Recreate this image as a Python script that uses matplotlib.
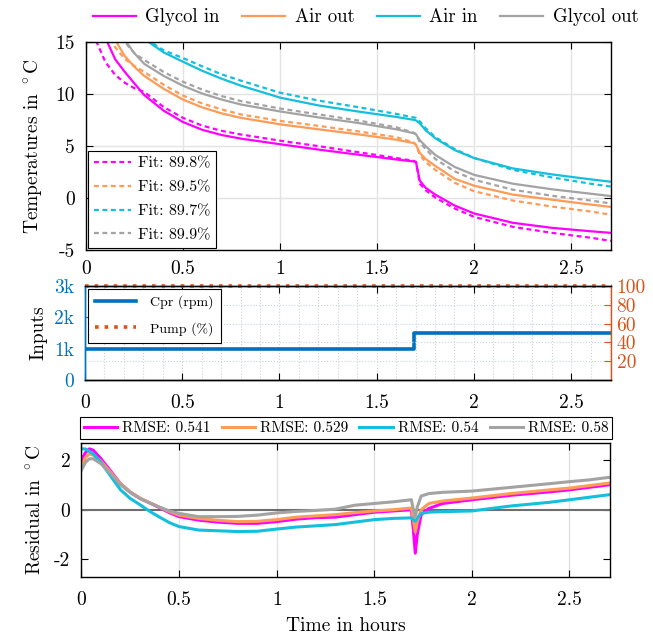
import matplotlib.pyplot as plt
import numpy as np

plt.rcParams['font.family'] = 'serif'
plt.rcParams['font.serif'] = ['cmr10']
plt.rcParams['mathtext.fontset'] = 'cm'
plt.rcParams['axes.unicode_minus'] = False
plt.rcParams['axes.formatter.use_mathtext'] = True

# ---- data ----
# temperatures (measured = solid, fit = dashed)
t_temp = [0, 0.05, 0.1, 0.15, 0.2, 0.25, 0.3, 0.4, 0.5, 0.6, 0.7, 0.8, 1.0, 1.2, 1.4,
          1.6, 1.69, 1.70, 1.72, 1.75, 1.8, 1.9, 2.0, 2.2, 2.4, 2.6, 2.73]
glycol_in = [24, 18.5, 15.4, 13.35, 12.12, 11.0, 9.9, 8.4, 7.3, 6.55, 6.05, 5.7, 5.17, 4.65, 4.17,
             3.7, 3.51, 3.46, 1.65, 0.98, 0.32, -0.73, -1.49, -2.39, -2.87, -3.2, -3.39]
glycol_in_fit = [21, 15.2, 13.07, 11.84, 11.08, 10.55, 10.2, 8.75, 7.7, 6.95, 6.45, 6.1, 5.51, 4.98, 4.41,
                 3.84, 3.56, 3.46, 1.37, 0.75, 0.03, -1.01, -1.82, -2.78, -3.35, -3.82, -4.2]
air_out = [26, 21, 17.5, 15.2, 13.65, 12.6, 11.74, 10.5, 9.46, 8.7, 8.13, 7.7, 7.08, 6.6, 6.13,
           5.6, 5.27, 5.13, 4.32, 3.75, 3.08, 1.84, 1.18, 0.32, -0.16, -0.63, -0.92]
air_out_fit = [24, 19.5, 16.2, 14.5, 13.36, 12.69, 12.12, 10.89, 9.84, 9.08, 8.51, 8.03, 7.41, 6.93, 6.41,
               5.84, 5.32, 5.08, 4.13, 3.46, 2.7, 1.46, 0.65, -0.25, -0.82, -1.3, -1.68]
air_in = [32, 26.5, 22.5, 19.8, 17.7, 16.3, 15.3, 14.0, 13.1, 12.22, 11.46, 10.79, 9.65, 8.89, 8.32,
          7.79, 7.51, 7.46, 7.17, 6.51, 5.74, 4.6, 3.84, 2.84, 2.27, 1.79, 1.51]
air_in_fit = [30, 25, 21.5, 19.2, 17.5, 16.3, 15.4, 14.2, 13.45, 12.65, 11.88, 11.27, 10.12, 9.36, 8.74,
              8.08, 7.74, 7.7, 7.36, 6.7, 5.84, 4.7, 3.84, 2.7, 1.98, 1.37, 1.03]
glycol_out = [28, 23, 19.5, 17, 15.2, 13.9, 12.9, 11.74, 10.79, 10.03, 9.46, 8.98, 8.32, 7.74, 7.22,
              6.6, 6.22, 6.13, 5.55, 4.98, 4.13, 2.98, 2.22, 1.37, 0.84, 0.41, 0.13]
glycol_out_fit = [27, 22, 18.5, 16.3, 15.0, 13.9, 13.27, 12.12, 11.17, 10.41, 9.79, 9.31, 8.6, 8.03, 7.46,
                  6.79, 6.27, 6.13, 5.36, 4.7, 3.75, 2.56, 1.75, 0.79, 0.22, -0.25, -0.59]
series_names = ['Glycol in', 'Air out', 'Air in', 'Glycol out']
fit_scores = ['89.8', '89.5', '89.7', '89.9']
rmse = ['0.541', '0.529', '0.54', '0.58']

# inputs
t_inputs = [0, 1.69, 2.71]
cpr_rpm = [1000, 1500, 1500]
pump_pct = [100, 100, 100]

# residuals
t_res = [0, 0.02, 0.04, 0.06, 0.1, 0.15, 0.2, 0.25, 0.3, 0.35, 0.4, 0.45, 0.5, 0.6, 0.7, 0.8, 0.9,
         1.0, 1.1, 1.2, 1.3, 1.4, 1.5, 1.6, 1.69, 1.70, 1.71, 1.72, 1.74, 1.78, 1.85, 2.0, 2.2,
         2.4, 2.5, 2.6, 2.7]
res_glycol_in = [2.0, 2.3, 2.45, 2.4, 2.05, 1.55, 1.05, 0.7, 0.45, 0.27, 0.08, -0.12, -0.28, -0.42, -0.5,
                 -0.55, -0.55, -0.48, -0.38, -0.32, -0.3, -0.2, -0.1, -0.05, 0.0, -0.8, -1.75, -1.0,
                 -0.2, 0.05, 0.25, 0.4, 0.58, 0.72, 0.8, 0.9, 1.0]
res_air_out = [1.75, 2.1, 2.25, 2.2, 1.95, 1.5, 1.05, 0.72, 0.47, 0.28, 0.1, -0.08, -0.22, -0.35, -0.43,
               -0.48, -0.47, -0.4, -0.3, -0.25, -0.2, -0.12, -0.05, 0.0, 0.07, -0.4, -0.9, -0.5,
               0.0, 0.25, 0.35, 0.47, 0.65, 0.8, 0.87, 0.97, 1.07]
res_air_in = [2.45, 2.45, 2.35, 2.25, 1.9, 1.35, 0.8, 0.45, 0.2, -0.07, -0.3, -0.52, -0.68, -0.82, -0.85,
              -0.88, -0.87, -0.78, -0.7, -0.65, -0.6, -0.5, -0.4, -0.35, -0.33, -0.4, -0.47, -0.35,
              -0.15, -0.1, -0.08, -0.05, 0.15, 0.3, 0.4, 0.5, 0.6]
res_glycol_out = [1.6, 1.9, 2.05, 2.05, 1.85, 1.45, 1.0, 0.7, 0.45, 0.27, 0.1, -0.05, -0.15, -0.28, -0.28,
                  -0.27, -0.22, -0.13, -0.07, -0.03, 0.02, 0.18, 0.25, 0.32, 0.4, 0.0, -0.3, 0.1,
                  0.55, 0.65, 0.7, 0.75, 0.9, 1.05, 1.13, 1.2, 1.3]

colors = ['#ff00ff', '#fd9b57', '#13bfdc', '#a3a3a3']
blue = '#0072bd'
red = '#d95319'
XMAX = 2.705

fig = plt.figure(figsize=(6.53, 6.4), dpi=100)
ax1 = fig.add_axes([0.1317, 0.6094, 0.804, 0.325])
ax2 = fig.add_axes([0.1302, 0.4063, 0.8055, 0.1469])
ax3 = fig.add_axes([0.1248, 0.0989, 0.8086, 0.2094])

xt = [0, 0.5, 1, 1.5, 2, 2.5]
xtl = ['0', '0.5', '1', '1.5', '2', '2.5']

# ---- temperatures ----
meas = [glycol_in, air_out, air_in, glycol_out]
fits = [glycol_in_fit, air_out_fit, air_in_fit, glycol_out_fit]
solid_handles = []
fit_handles = []
for i in range(4):
    h, = ax1.plot(t_temp, meas[i], color=colors[i], lw=1.6, label=series_names[i])
    solid_handles.append(h)
for i in range(4):
    h, = ax1.plot(t_temp, fits[i], color=colors[i], lw=1.6, linestyle=(0, (2.2, 1.6)),
                  label='Fit: ' + fit_scores[i] + '%')
    fit_handles.append(h)
ax1.set_xlim(0, XMAX)
ax1.set_ylim(-5, 15)
ax1.set_xticks(xt)
ax1.set_xticklabels(xtl)
ax1.set_yticks([-5, 0, 5, 10, 15])
ax1.set_yticklabels(['-5', '0', '5', '10', '15'])
ax1.grid(True, color='#e3e3e3', lw=1)
ax1.set_axisbelow(True)
ax1.set_ylabel(r'Temperatures in $^\circ$C', fontsize=14)
ax1.yaxis.set_label_coords(-0.078, 0.5)
leg = ax1.legend(handles=fit_handles, loc='lower left', fontsize=11.5, frameon=True, fancybox=False,
                 edgecolor='black', framealpha=1, borderaxespad=0.15, handlelength=2.3,
                 labelspacing=0.6, borderpad=0.35, handletextpad=0.45)
leg.get_frame().set_linewidth(0.8)

fig.legend(handles=solid_handles, loc='center', bbox_to_anchor=(0.56, 0.973), ncol=4,
           frameon=False, fontsize=13.5, handlelength=2.3, columnspacing=1.2, handletextpad=0.5)

# ---- inputs ----
ax2r = ax2.twinx()
l_cpr, = ax2.plot(t_inputs, cpr_rpm, color=blue, lw=2.6, drawstyle='steps-post', label='Cpr (rpm)')
l_pump, = ax2r.plot(t_inputs, pump_pct, color=red, lw=2.6, linestyle=':', clip_on=False,
                    label='Pump (%)')
ax2.set_xlim(0, XMAX)
ax2.set_ylim(0, 3000)
ax2r.set_ylim(0, 100)
ax2.set_xticks(xt)
ax2.set_xticklabels(xtl)
ax2.set_xticks(np.arange(0, 2.71, 0.1), minor=True)
ax2.set_yticks([0, 1000, 2000, 3000])
ax2.set_yticklabels(['0', '1k', '2k', '3k'], color=blue)
ax2r.set_yticks([20, 40, 60, 80, 100])
ax2r.set_yticklabels(['20', '40', '60', '80', '100'], color=red)
ax2.grid(True, which='both', axis='x', color='#c9d3de', lw=0.8, linestyle=':')
ax2r.grid(True, axis='y', color='#c9d3de', lw=0.8, linestyle=':')
ax2.spines['left'].set_color(blue)
ax2r.spines['left'].set_color(blue)
ax2r.spines['right'].set_color(red)
ax2.spines['right'].set_visible(False)
ax2.set_ylabel('Inputs', fontsize=14)
ax2.yaxis.set_label_coords(-0.072, 0.5)
leg2 = ax2r.legend(handles=[l_cpr, l_pump], loc='upper left', fontsize=10, frameon=True,
                   fancybox=False, edgecolor='black', framealpha=1, borderaxespad=0.2,
                   handlelength=3.0, labelspacing=0.9, borderpad=0.5, handletextpad=1.0)
leg2.get_frame().set_linewidth(0.8)

# ---- residuals ----
res = [res_glycol_in, res_air_out, res_air_in, res_glycol_out]
res_handles = []
ax3.axhline(0, color='#6e6e6e', lw=1.5, zorder=1)
for i in range(4):
    h, = ax3.plot(t_res, res[i], color=colors[i], lw=2.2, label='RMSE: ' + rmse[i], zorder=2)
    res_handles.append(h)
ax3.set_xlim(0, XMAX)
ax3.set_ylim(-2.7, 2.7)
ax3.set_xticks(xt)
ax3.set_xticklabels(xtl)
ax3.set_yticks([-2, 0, 2])
ax3.set_yticklabels(['-2', '0', '2'])
ax3.grid(True, axis='x', color='#e3e3e3', lw=1)
ax3.set_axisbelow(True)
ax3.set_ylabel(r'Residual in $^\circ$C', fontsize=14)
ax3.yaxis.set_label_coords(-0.07, 0.5)
ax3.set_xlabel('Time in hours', fontsize=14, labelpad=6)
leg3 = ax3.legend(handles=res_handles, loc='lower left', bbox_to_anchor=(-0.003, 1.03, 1.008, 0.1),
                  mode='expand', ncol=4, fontsize=11, frameon=True, fancybox=False,
                  edgecolor='black', framealpha=1, borderaxespad=0, handlelength=2.2,
                  handletextpad=0.3, columnspacing=0.6, borderpad=0.25)
leg3.get_frame().set_linewidth(0.8)

for ax, xpad in [(ax1, 7), (ax2, 10), (ax3, 10)]:
    ax.tick_params(axis='x', which='major', labelsize=14, direction='in', length=5, pad=xpad)
    ax.tick_params(axis='y', which='major', labelsize=14, direction='in', length=5, pad=8)
    ax.tick_params(axis='x', which='minor', length=0)
    ax.tick_params(top=True)
for ax in [ax1, ax3]:
    ax.tick_params(right=True)
ax2.tick_params(axis='y', colors=blue)
ax2r.tick_params(axis='y', colors=red, labelsize=14, direction='in', length=5, pad=4)
for ax in [ax1, ax2, ax2r, ax3]:
    for s in ax.spines.values():
        s.set_linewidth(1.0)

fig.savefig('out.png', dpi=100)
